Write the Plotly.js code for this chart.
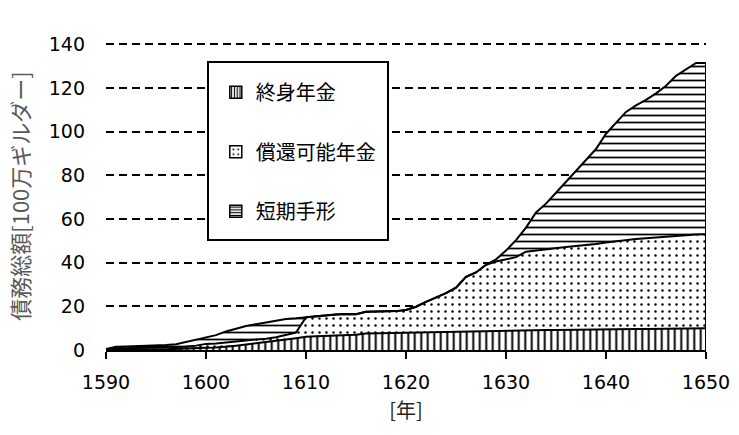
<!DOCTYPE html>
<html>
<head>
<meta charset="utf-8">
<script src="https://cdn.plot.ly/plotly-3.0.1.min.js"></script>
<style>html,body{margin:0;padding:0;background:#fff;}#chart{width:739px;height:435px;}</style>
</head>
<body>
<div id="chart"></div>
<script>
// Years
const years = [];
for (let y = 1590; y <= 1650; y++) years.push(y);

// 終身年金 (life annuities), 100万ギルダー
const lifeAnnuity = [
  0.1, 0.2, 0.2, 0.2, 0.2, 0.3, 0.3, 0.4, 0.5, 0.7,
  1.0, 1.2, 1.5, 2.0, 2.5, 3.0, 3.6, 4.2, 4.8, 5.4,
  6.1, 6.3, 6.5, 6.7, 6.8, 7.0, 7.6, 7.7, 7.7, 7.8,
  7.8, 7.9, 8.0, 8.2, 8.3, 8.4, 8.5, 8.6, 8.7, 8.8,
  8.8, 8.9, 9.0, 9.0, 9.1, 9.1, 9.2, 9.3, 9.3, 9.4,
  9.4, 9.5, 9.5, 9.6, 9.6, 9.7, 9.8, 9.8, 9.9, 9.9,
  10.0
];

// 償還可能年金 (redeemable annuities)
const redeemable = [
  0.2, 0.6, 0.6, 0.7, 0.7, 0.7, 0.8, 0.8, 1.0, 1.3,
  1.8, 1.8, 1.9, 1.8, 1.7, 1.6, 1.6, 1.6, 2.0, 2.6,
  8.9, 9.2, 9.4, 9.5, 9.7, 9.4, 9.9, 9.9, 10.0, 10.0,
  10.5, 11.9, 14.0, 15.8, 17.7, 20.1, 25.0, 26.9, 30.3, 31.7,
  32.7, 33.6, 36.0, 36.6, 37.1, 37.7, 38.0, 38.3, 38.7, 39.1,
  39.8, 40.3, 40.9, 41.2, 41.6, 41.9, 42.2, 42.5, 42.7, 43.0,
  43.0
];

// 短期手形 (short-term bills)
const shortTerm = [
  0.2, 0.7, 0.8, 0.8, 0.9, 1.0, 1.2, 1.4, 2.1, 2.5,
  2.7, 3.8, 5.1, 6.0, 6.8, 7.2, 7.4, 7.7, 7.4, 6.5,
  0, 0, 0, 0, 0, 0, 0, 0, 0, 0,
  0, 0, 0, 0, 0, 0, 0, 0, 0, 1.0,
  4.0, 7.8, 11.0, 17.4, 20.8, 25.2, 29.8, 34.4, 39.0, 43.5,
  49.8, 54.2, 58.6, 61.2, 63.3, 65.9, 69.0, 73.2, 75.9, 78.5,
  78.4
];

const seriesNames = ['終身年金', '償還可能年金', '短期手形'];
const xTicks = [1590, 1600, 1610, 1620, 1630, 1640, 1650];
const yTicks = [0, 20, 40, 60, 80, 100, 120, 140];

const patterns = [
  {shape: '|', size: 6.5, solidity: 0.3},
  {shape: '.', size: 7, solidity: 0.1},
  {shape: '-', size: 7, solidity: 0.25}
];
const legendPatterns = [
  {shape: '|', size: 3.5, solidity: 0.4},
  {shape: '.', size: 6, solidity: 0.12},
  {shape: '-', size: 3.5, solidity: 0.4}
];
const seriesValues = [lifeAnnuity, redeemable, shortTerm];

const traces = [];
seriesValues.forEach((vals, i) => {
  traces.push({
    type: 'scatter',
    x: years,
    y: vals,
    name: seriesNames[i],
    stackgroup: 'debt',
    mode: 'lines',
    line: {color: '#000', width: 2},
    fillcolor: '#fff',
    fillpattern: Object.assign({fgcolor: '#000', bgcolor: '#fff', fillmode: 'replace'}, patterns[i]),
    showlegend: false,
    hoverinfo: 'skip'
  });
});

// right edge of the stacked area
const last = years.length - 1;
const lastTotal = lifeAnnuity[last] + redeemable[last] + shortTerm[last];
traces.push({
  type: 'scatter', x: [years[last], years[last]], y: [0, lastTotal],
  mode: 'lines', line: {color: '#000', width: 2}, showlegend: false, hoverinfo: 'skip'
});

// legend entries (square pattern swatches)
seriesNames.forEach((name, i) => {
  traces.push({
    type: 'bar', x: [null], y: [null], name: name,
    legendgroup: 'g' + i,
    marker: {
      color: '#fff',
      line: {color: '#000', width: 1.5},
      pattern: Object.assign({fgcolor: '#000', bgcolor: '#fff'}, legendPatterns[i])
    },
    showlegend: true
  });
});

const layout = {
  width: 739, height: 435,
  margin: {l: 106, r: 33, t: 42, b: 85},
  paper_bgcolor: '#fff', plot_bgcolor: '#fff',
  font: {family: 'DejaVu Sans, Verdana, sans-serif', color: '#000'},
  showlegend: true,
  legend: {
    x: 0.183, y: 0.9, xanchor: 'left', yanchor: 'top',
    bgcolor: 'rgba(0,0,0,0)', borderwidth: 0,
    font: {family: 'Noto Sans CJK JP, sans-serif', size: 20, color: '#000'},
    traceorder: 'grouped', tracegroupgap: 30.5
  },
  xaxis: {
    range: [1590, 1650], tickvals: xTicks, ticktext: xTicks.map(String),
    showgrid: false, zeroline: false,
    showline: true, linecolor: '#000', linewidth: 2,
    ticks: 'outside', ticklen: 7, tickwidth: 2, tickcolor: '#000',
    tickfont: {size: 19, family: 'DejaVu Sans, Verdana, sans-serif', color: '#000'},
    ticklabelstandoff: 7,
    title: {text: '[年]', font: {size: 20, family: 'Noto Sans CJK JP, sans-serif', color: '#262626'}, standoff: 12}
  },
  yaxis: {
    range: [0, 141], tickvals: yTicks, ticktext: yTicks.map(String),
    showgrid: true, gridcolor: '#000', gridwidth: 2, griddash: '8px,5px',
    zeroline: false, showline: false, ticks: '',
    tickfont: {size: 19, family: 'DejaVu Sans, Verdana, sans-serif', color: '#000'},
    ticklabelstandoff: 20,
    title: {text: '債務総額[100万ギルダー]', font: {size: 22, family: 'Noto Sans CJK JP, sans-serif', color: '#595959'}, standoff: 13}
  },
  shapes: [{
    type: 'rect', xref: 'paper', yref: 'paper',
    x0: 0.17, x1: 0.47, y0: 0.357, y1: 0.935,
    line: {color: '#000', width: 2}, fillcolor: '#fff', layer: 'above'
  }]
};

Plotly.newPlot('chart', traces, layout, {displayModeBar: false, staticPlot: true});
</script>
</body>
</html>
